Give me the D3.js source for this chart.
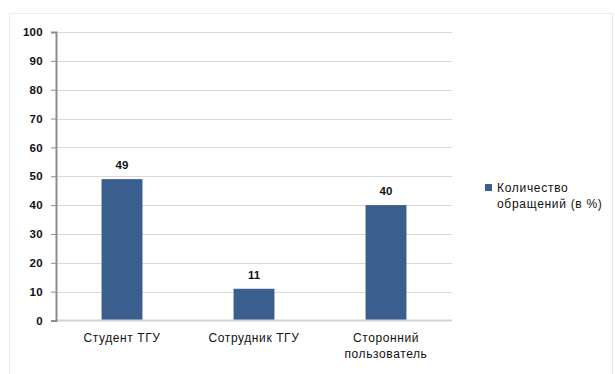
<!DOCTYPE html>
<html>
<head>
<meta charset="utf-8">
<script src="https://cdn.jsdelivr.net/npm/d3@7"></script>
<style>
  html, body { margin: 0; padding: 0; background: #fff; }
  svg { display: block; font-family: "Liberation Sans", Arial, sans-serif; }
</style>
</head>
<body>
<svg id="chart" width="615" height="374"></svg>
<script>
// Request counts by user type (percent)
const categories = ["Студент ТГУ", "Сотрудник ТГУ", "Сторонний пользователь"];
const values = [49, 11, 40];
const yTicks = [0, 10, 20, 30, 40, 50, 60, 70, 80, 90, 100];
const seriesName = ["Количество", "обращений (в %)"];

const svg = d3.select("#chart");
const W = 615, H = 374;

// outer frame
svg.append("rect")
  .attr("x", 9.5).attr("y", 13.5)
  .attr("width", W - 12).attr("height", H - 10)
  .attr("fill", "none").attr("stroke", "#ececec");

const plot = { left: 56, right: 452, top: 32, bottom: 320.5 };

const x = d3.scaleBand()
  .domain(categories)
  .range([plot.left, plot.right])
  .paddingInner(0.69)
  .paddingOuter(0.345);

const y = d3.scaleLinear().domain([0, 100]).range([plot.bottom, plot.top]);

// gridlines
svg.append("g")
  .selectAll("line")
  .data(yTicks.filter(t => t > 0))
  .join("line")
  .attr("x1", plot.left).attr("x2", plot.right)
  .attr("y1", d => Math.round(y(d)) + 0.5).attr("y2", d => Math.round(y(d)) + 0.5)
  .attr("stroke", "#d9d9d9").attr("stroke-width", 1);

// bars
svg.append("g")
  .selectAll("rect")
  .data(values)
  .join("rect")
  .attr("x", (d, i) => x(categories[i]))
  .attr("width", x.bandwidth())
  .attr("y", d => y(d))
  .attr("height", d => plot.bottom - y(d))
  .attr("fill", "#3a5f8e");

// baseline
svg.append("line")
  .attr("x1", plot.left).attr("x2", plot.right)
  .attr("y1", plot.bottom).attr("y2", plot.bottom)
  .attr("stroke", "#d4d4d4").attr("stroke-width", 2);

// y axis
const yAxis = d3.axisLeft(y).tickValues(yTicks).tickSize(5).tickPadding(8);
const gy = svg.append("g")
  .attr("transform", `translate(${plot.left},0)`)
  .call(yAxis);
gy.select(".domain").attr("stroke", "#8c8c8c").attr("stroke-width", 2);
gy.selectAll(".tick line").attr("stroke", "#8c8c8c").attr("stroke-width", 1);
gy.selectAll(".tick text")
  .attr("fill", "#111")
  .style("font-size", "11.5px")
  .style("font-weight", "bold")
  .style("letter-spacing", "0.3px")
  .style("font-family", "'Liberation Sans', Arial, sans-serif");

// category labels
const labelLines = categories.map(c => c === "Сторонний пользователь" ? ["Сторонний", "пользователь"] : [c]);
const cat = svg.append("g")
  .selectAll("text")
  .data(categories)
  .join("text")
  .attr("x", d => x(d) + x.bandwidth() / 2)
  .attr("y", 342)
  .attr("text-anchor", "middle")
  .attr("fill", "#111")
  .style("font-size", "12px")
  .style("letter-spacing", "0.6px");
cat.each(function(d, i) {
  d3.select(this).selectAll("tspan")
    .data(labelLines[i])
    .join("tspan")
    .attr("x", x(d) + x.bandwidth() / 2)
    .attr("dy", (t, j) => j === 0 ? 0 : 16)
    .text(t => t);
});

// value labels
svg.append("g")
  .selectAll("text")
  .data(values)
  .join("text")
  .attr("x", (d, i) => x(categories[i]) + x.bandwidth() / 2)
  .attr("y", d => y(d) - 10)
  .attr("text-anchor", "middle")
  .attr("fill", "#111")
  .style("font-size", "11.5px")
  .style("font-weight", "bold")
  .text(d => d);

// legend
const lg = svg.append("g");
lg.append("rect")
  .attr("x", 485).attr("y", 184)
  .attr("width", 7).attr("height", 7)
  .attr("fill", "#3a5f8e");
lg.append("text")
  .attr("x", 497).attr("y", 192)
  .attr("fill", "#111")
  .style("font-size", "12px")
  .style("letter-spacing", "0.7px")
  .selectAll("tspan")
  .data(seriesName)
  .join("tspan")
  .attr("x", 497)
  .attr("dy", (t, j) => j === 0 ? 0 : 16)
  .text(t => t);
</script>
</body>
</html>
